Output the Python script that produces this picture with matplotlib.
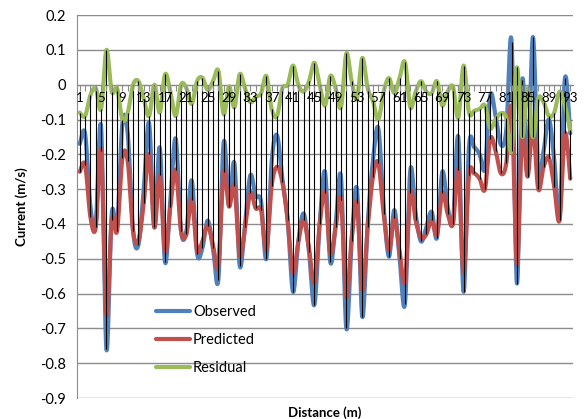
import numpy as np
import matplotlib
matplotlib.use('Agg')
import matplotlib.pyplot as plt

# Datos (categorias 1..93)
distancia = list(range(1, 94))
observado = [-0.17, -0.14, -0.35, -0.40, -0.12, -0.76, -0.37, -0.41, -0.11, -0.14,
             -0.42, -0.46, -0.30, -0.11, -0.41, -0.18, -0.51, -0.33, -0.155, -0.42,
             -0.42, -0.275, -0.485, -0.47, -0.39, -0.47, -0.56, -0.165, -0.345, -0.225,
             -0.52, -0.40, -0.26, -0.32, -0.335, -0.50, -0.22, -0.145, -0.27, -0.39,
             -0.595, -0.45, -0.37, -0.48, -0.633, -0.40, -0.25, -0.51, -0.40, -0.265,
             -0.70, -0.45, -0.30, -0.667, -0.40, -0.217, -0.125, -0.35, -0.494, -0.36,
             -0.50, -0.63, -0.245, -0.37, -0.45, -0.41, -0.365, -0.44, -0.25, -0.35,
             -0.394, -0.15, -0.595, -0.18, -0.18, -0.20, -0.24, -0.03, -0.09, -0.173,
             -0.13, 0.124, -0.571, 0.013, -0.255, 0.137, -0.25, -0.19, -0.10, -0.216,
             -0.384, 0.018, -0.14]
predicho = [-0.25, -0.23, -0.38, -0.41, -0.19, -0.66, -0.39, -0.42, -0.21, -0.22,
            -0.42, -0.45, -0.34, -0.20, -0.41, -0.26, -0.48, -0.35, -0.245, -0.42,
            -0.43, -0.33, -0.475, -0.45, -0.405, -0.46, -0.52, -0.25, -0.35, -0.29,
            -0.49, -0.41, -0.31, -0.355, -0.36, -0.475, -0.29, -0.236, -0.28, -0.39,
            -0.54, -0.45, -0.39, -0.47, -0.57, -0.40, -0.31, -0.485, -0.41, -0.33,
            -0.61, -0.44, -0.34, -0.59, -0.41, -0.264, -0.225, -0.37, -0.475, -0.384,
            -0.48, -0.565, -0.31, -0.39, -0.44, -0.43, -0.39, -0.43, -0.31, -0.37,
            -0.40, -0.245, -0.54, -0.26, -0.255, -0.27, -0.30, -0.155, -0.19, -0.255,
            -0.226, -0.068, -0.515, -0.14, -0.264, -0.12, -0.30, -0.236, -0.21, -0.293,
            -0.389, -0.14, -0.27]
residual = [-0.08, -0.09, -0.03, -0.01, -0.07, 0.10, -0.02, -0.01, -0.10, -0.08,
            0.00, 0.01, -0.04, -0.09, 0.00, -0.08, 0.03, -0.02, -0.09, 0.00,
            -0.01, -0.055, 0.01, 0.02, -0.015, 0.01, 0.04, -0.085, -0.005, -0.065,
            0.03, -0.01, -0.05, -0.035, -0.025, 0.025, -0.07, -0.09, -0.01, 0.00,
            0.055, 0.00, -0.02, 0.01, 0.063, 0.00, -0.06, 0.025, -0.01, -0.065,
            0.09, 0.01, -0.04, 0.077, -0.01, -0.047, -0.10, -0.02, 0.019, -0.024,
            0.02, 0.065, -0.065, -0.02, 0.01, -0.02, -0.025, 0.01, -0.06, -0.02,
            -0.006, -0.095, 0.055, -0.08, -0.075, -0.07, -0.06, -0.125, -0.10, -0.082,
            -0.096, -0.19, 0.05, -0.15, -0.01, -0.15, -0.04, -0.05, -0.09, -0.08,
            -0.02, -0.06, -0.13]

series = [('Observed', observado, '#4F81BD'),
          ('Predicted', predicho, '#C0504D'),
          ('Residual', residual, '#9BBB59')]


def suavizar(x, y, n=16):
    # Curva suave tipo Excel (Bezier con puntos de control Catmull-Rom)
    x = np.asarray(x, float)
    y = np.asarray(y, float)
    p = np.column_stack([x, y])
    p = np.vstack([p[0], p, p[-1]])
    t = np.linspace(0, 1, n, endpoint=False)[:, None]
    partes = []
    for i in range(1, len(p) - 2):
        p0, p1, p2, p3 = p[i - 1], p[i], p[i + 1], p[i + 2]
        c1 = p1 + (p2 - p0) / 6
        c2 = p2 - (p3 - p1) / 6
        b = ((1 - t) ** 3) * p1 + 3 * ((1 - t) ** 2) * t * c1 + 3 * (1 - t) * t ** 2 * c2 + t ** 3 * p2
        partes.append(b)
    partes.append(p[-2][None, :])
    c = np.vstack(partes)
    return c[:, 0], c[:, 1]


plt.rcParams['font.family'] = ['Lato', 'DejaVu Sans']

fig = plt.figure(figsize=(5.84, 4.19), dpi=100)
ax = fig.add_axes([0.132, 0.050, 0.849, 0.914])

ax.set_ylim(-0.9, 0.2)
ax.set_xlim(0.5, 93.5)
ax.set_yticks(np.round(np.arange(-0.9, 0.21, 0.1), 1))
ax.set_yticklabels([('%.1f' % v) if abs(v) > 1e-9 else '0' for v in np.arange(-0.9, 0.21, 0.1)])
ax.grid(axis='y', color='#8c8c8c', lw=1.0)
ax.set_axisbelow(True)

for nombre, valores, color in series:
    xs, ys = suavizar(distancia, valores)
    ax.plot(xs, ys, color=color, lw=3.0, label=nombre, solid_capstyle='round', zorder=3)

# lineas de maximos y minimos
altos = np.max([observado, predicho, residual], axis=0)
bajos = np.min([observado, predicho, residual], axis=0)
ax.vlines(distancia, bajos, altos, color='black', lw=0.8, zorder=4)

ax.spines['top'].set_visible(False)
ax.spines['right'].set_visible(False)
ax.spines['left'].set_color('#8c8c8c')
ax.spines['bottom'].set_position(('data', 0))
ax.spines['bottom'].set_color('#8c8c8c')

ax.set_xticks(distancia)
ax.set_xticklabels([str(d) if (d - 1) % 4 == 0 else '' for d in distancia])
ax.tick_params(axis='x', length=4, color='#8c8c8c', labelsize=9.5, pad=1)
ax.tick_params(axis='y', length=0, labelsize=10.5, pad=8)
ax.xaxis.set_zorder(5)

ax.set_xlabel('Distance (m)', fontsize=9.5, fontweight='bold', labelpad=0)
ax.xaxis.set_label_coords(0.5, -0.022)
ax.set_ylabel('Current (m/s)', fontsize=9.5, fontweight='bold')
ax.yaxis.set_label_coords(-0.098, 0.5)

ax.legend(loc='center left', bbox_to_anchor=(0.16, 0.151), frameon=False,
          fontsize=10.5, handlelength=2.3, handletextpad=0.2, labelspacing=0.95,
          borderpad=0, borderaxespad=0)

plt.savefig('out.png', dpi=100)
